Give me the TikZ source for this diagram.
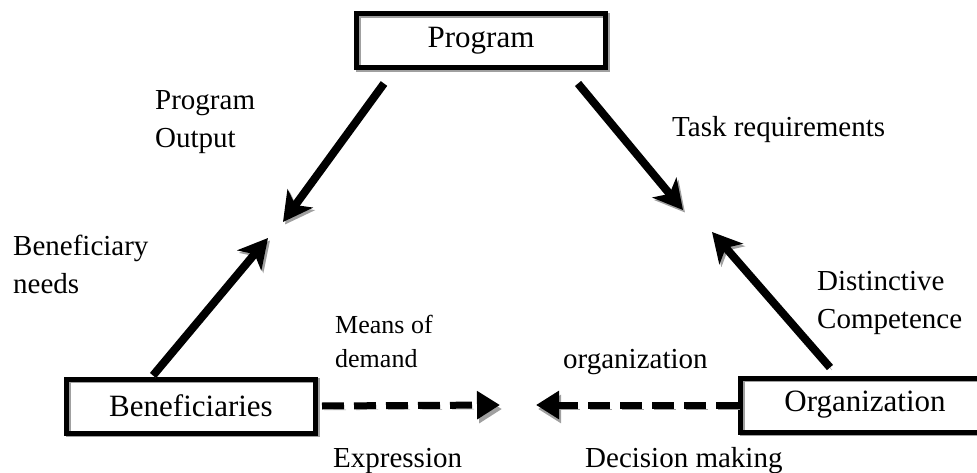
\documentclass[tikz,border=0pt]{standalone}
\usepackage{fontspec}
\setmainfont{Liberation Serif}
\usetikzlibrary{arrows.meta}
\definecolor{myshade}{RGB}{160,160,160}

\tikzset{
    box/.style={draw, line width=5pt, inner sep=0pt,
        minimum width=249pt, minimum height=54pt,
        font=\fontsize{31}{37}\selectfont,
        preaction={draw=myshade, transform canvas={shift={(1.5pt,-1.5pt)}}}},
    lbl/.style={anchor=base west, inner sep=0pt, align=left,
        font=\fontsize{29}{38}\selectfont},
    smalllbl/.style={anchor=base west, inner sep=0pt, align=left,
        font=\fontsize{26}{34}\selectfont},
    flow/.style={line width=8pt, -{Stealth[length=29pt, width=31pt, inset=8pt]},
        preaction={draw=myshade, transform canvas={shift={(2pt,-2.5pt)}}}},
    demand/.style={line width=7pt, dash pattern=on 22pt off 10pt,
        -{Triangle[length=23pt, width=27pt]},
        preaction={draw=myshade, dash pattern=on 22pt off 10pt,
            transform canvas={shift={(2pt,-4pt)}}}}
}

\begin{document}
\begin{tikzpicture}[x=1pt, y=-1pt]
    \useasboundingbox (0, 0) rectangle (977, 473);

    % Boxes
    \node[box] (prog) at (481, 41) {Program};
    \node[box] (benef) at (191, 406) {Beneficiaries};
    \node[box] (org) at (865, 405) {Organization};

    % Free arrow ends
    \coordinate (tipout) at (283, 222);
    \coordinate (tiptask) at (683, 210);
    \coordinate (tipneeds) at (268, 238);
    \coordinate (tipcomp) at (712, 232);
    \coordinate (tipmeans) at (500, 405);
    \coordinate (tipdec) at (536, 405);

    \draw[flow] ([xshift=30pt, yshift=-13pt]prog.south west)
        -- (tipout);
    \draw[flow] ([xshift=-30pt, yshift=-13pt]prog.south east)
        -- (tiptask);
    \draw[flow] ([xshift=89pt, yshift=1pt]benef.north west)
        -- (tipneeds);
    \draw[flow] ([xshift=92pt, yshift=8pt]org.north west)
        -- (tipcomp);
    \draw[demand] ([xshift=4pt]benef.east)
        -- (tipmeans);
    \draw[demand] (org.west)
        -- (tipdec);

    % Labels (anchored on the last line)
    \node[lbl] (outlbl) at (155, 148) {Program\\Output};
    \node[lbl] (tasklbl) at (672, 137) {Task requirements};
    \node[lbl] (needslbl) at (13, 293) {Beneficiary\\needs};
    \node[lbl] (complbl) at (817, 328) {Distinctive\\Competence};
    \node[smalllbl] (meanslbl) at (335, 367) {Means of\\demand};
    \node[lbl] (orglbl) at (563, 368) {organization};
    \node[lbl] (exprlbl) at (333, 467) {Expression};
    \node[lbl] (declbl) at (585, 467) {Decision making};
\end{tikzpicture}
\end{document}
